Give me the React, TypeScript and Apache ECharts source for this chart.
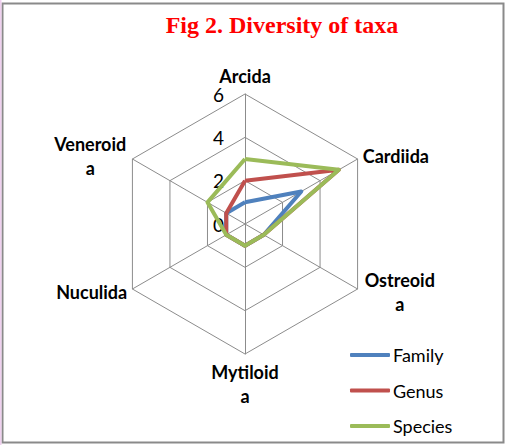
import React, { useEffect, useRef } from "react";
import * as echarts from "echarts";

// Indicators in ECharts order (top first, then counter-clockwise)
const categories = ["Arcida", "Veneroida", "Nuculida", "Mytiloida", "Ostreoida", "Cardiida"];
const maxValue = 6;
const familyValues = [1, 1, 1, 1, 1, 3];
const genusValues = [2, 1, 1, 1, 1, 5];
const speciesValues = [3, 2, 1, 1, 1, 5];
const seriesNames = ["Family", "Genus", "Species"];
const seriesColors = ["#4F81BD", "#C0504D", "#9BBB59"];
const titleText = "Fig 2. Diversity of taxa";

const wrapName = (n: string) =>
  n.length > 8 ? "{w|" + n.slice(0, 8) + "}\n{w|" + n.slice(8) + "}" : n;

export default function App() {
  const ref = useRef<HTMLDivElement>(null);
  useEffect(() => {
    if (!ref.current) return;
    const chart = echarts.init(ref.current, null, { renderer: "svg" });
    const values = [familyValues, genusValues, speciesValues];
    const nameFont = {
      color: "#000",
      fontFamily: "Lato",
      fontWeight: "bold" as const,
      fontSize: 18,
      lineHeight: 24,
    };
    chart.setOption({
      animation: false,
      backgroundColor: "#ffffff",
      title: {
        text: titleText,
        left: 277,
        top: 8,
        textAlign: "center",
        textStyle: {
          fontFamily: "Liberation Serif",
          fontWeight: "bold",
          fontSize: 24,
          color: "#FF0000",
        },
      },
      graphic: [
        {
          type: "rect",
          shape: { x: 2.5, y: 3.5, width: 501, height: 439 },
          style: { fill: "none", stroke: "#8a8a8a", lineWidth: 2 },
          silent: true,
        },
        {
          type: "rect",
          shape: { x: 0, y: 0, width: 1.5, height: 445 },
          style: { fill: "#efd0ef" },
          silent: true,
        },
      ],
      legend: {
        orient: "vertical",
        left: 350,
        top: 345,
        padding: 0,
        icon: "roundRect",
        itemWidth: 40,
        itemHeight: 4,
        itemGap: 15.5,
        data: seriesNames,
        textStyle: {
          fontFamily: "Lato",
          fontSize: 18,
          color: "#000",
          lineHeight: 20,
          padding: [0, 0, 0, -2],
        },
      },
      radar: {
        center: [245, 224],
        radius: 130,
        startAngle: 90,
        splitNumber: 3,
        shape: "polygon",
        nameGap: 6,
        indicator: categories.map((c) => ({ name: c, min: 0, max: maxValue })),
        axisName: {
          formatter: (n: string) => wrapName(n),
          ...nameFont,
          rich: { w: { ...nameFont, width: 74, align: "center" } },
        },
        splitLine: { lineStyle: { color: "#8c8c8c", width: 1 } },
        splitArea: { show: false },
        axisLine: { lineStyle: { color: "#8c8c8c", width: 1 } },
        axisTick: { show: false },
        axisLabel: { show: false },
      },
      polar: { center: [245, 224], radius: 130 },
      angleAxis: { show: false, startAngle: 90, min: 0, max: 360 },
      radiusAxis: {
        min: 0,
        max: maxValue,
        interval: 2,
        axisLine: { show: false },
        axisTick: { show: false },
        splitLine: { show: false },
        axisLabel: {
          show: true,
          margin: 21,
          fontFamily: "Lato",
          fontSize: 19,
          lineHeight: 8,
          color: "#000",
        },
      },
      series: [
        {
          type: "radar",
          symbol: "none",
          data: seriesNames.map((name, i) => ({
            name,
            value: values[i],
            lineStyle: { color: seriesColors[i], width: 4 },
            itemStyle: { color: seriesColors[i] },
          })),
        },
      ],
    });
    return () => chart.dispose();
  }, []);
  return (
    <div
      ref={ref}
      style={{ position: "absolute", left: 0, top: 0, width: 506, height: 445 }}
    />
  );
}
